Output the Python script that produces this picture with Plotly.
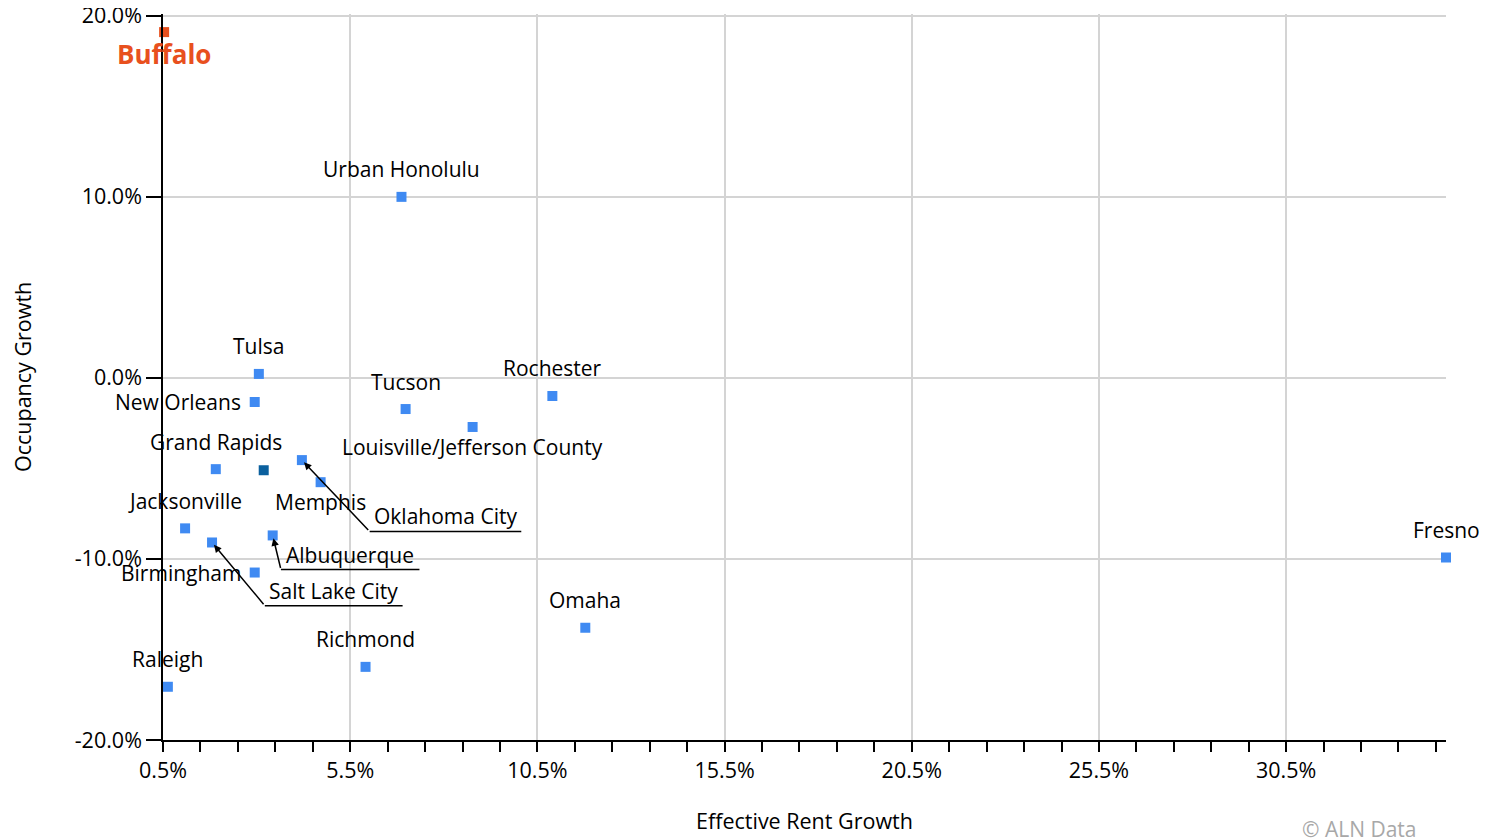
import plotly.graph_objects as go

# effective rent growth (%) vs occupancy growth (%)
cities = ["Buffalo", "Urban Honolulu", "Tulsa", "New Orleans", "Tucson", "Rochester",
          "Louisville/Jefferson County", "Grand Rapids", "Oklahoma City", "Memphis",
          "Jacksonville", "Salt Lake City", "Albuquerque", "Birmingham", "Fresno",
          "Omaha", "Richmond", "Raleigh"]
rent_growth = [0.53, 6.87, 3.06, 2.95, 6.98, 10.9, 8.77, 1.91, 4.21, 4.71,
               1.09, 1.81, 3.43, 2.95, 34.77, 11.78, 5.91, 0.63]
occ_growth = [19.1, 10.0, 0.22, -1.33, -1.72, -1.0, -2.71, -5.04, -4.54, -5.76,
              -8.31, -9.09, -8.7, -10.75, -9.92, -13.8, -15.96, -17.06]

# unlabeled highlighted market
hl_rent = [3.19]
hl_occ = [-5.1]

y_ticks = [-20, -10, 0, 10, 20]
y_ticktext = ["-20.0%", "-10.0%", "0.0%", "10.0%", "20.0%"]

BLUE = "#3f8af2"
DARK = "#0b609e"
ORANGE = "#e8501e"
FONT = "Open Sans, Noto Sans, sans-serif"

# label placement: (xanchor, xshift, yshift)
label_pos = {
    "Buffalo": ("center", 0, -22),
    "New Orleans": ("right", -12, 0),
    "Birmingham": ("right", -12, 0),
    "Louisville/Jefferson County": ("center", 0, -20),
    "Memphis": ("center", 0, -20),
    "Tucson": ("center", 0, 27),
    "Grand Rapids": ("center", 0, 27),
    "Jacksonville": ("center", 0, 27),
}
# callouts: label centre, leader tail, underline end (data coords)
callouts = {
    "Oklahoma City": ((8.05, -7.65), (6.02, -8.48), 10.07),
    "Albuquerque": ((5.49, -9.8), (3.65, -10.58), 7.35),
    "Salt Lake City": ((5.06, -11.75), (3.22, -12.58), 6.9),
}

fig = go.Figure()

colors = [ORANGE if c == "Buffalo" else BLUE for c in cities]
fig.add_trace(go.Scatter(x=rent_growth, y=occ_growth, mode="markers", text=cities,
                         marker=dict(symbol="square", size=10, color=colors), cliponaxis=False,
                         hovertemplate="%{text}<br>%{x:.1f}%, %{y:.1f}%<extra></extra>"))
fig.add_trace(go.Scatter(x=hl_rent, y=hl_occ, mode="markers",
                         marker=dict(symbol="square", size=10, color=DARK),
                         hoverinfo="skip"))

annotations = []
shapes = []
for c, xv, yv in zip(cities, rent_growth, occ_growth):
    if c in callouts:
        (tx, ty), (lx, ly), ux = callouts[c]
        annotations.append(dict(x=tx, y=ty, text=c, showarrow=False,
                                font=dict(family=FONT, size=21, color="black")))
        annotations.append(dict(x=xv, y=yv, ax=lx, ay=ly, axref="x", ayref="y", text="",
                                showarrow=True, arrowhead=2, arrowsize=1, arrowwidth=1.5,
                                arrowcolor="black", standoff=3))
        shapes.append(dict(type="line", x0=lx, x1=ux, y0=ly, y1=ly,
                           line=dict(color="black", width=1.5)))
        continue
    xa, xs, ys = label_pos.get(c, ("center", 0, 28))
    bold = c == "Buffalo"
    annotations.append(dict(x=xv, y=yv, text=f"<b>{c}</b>" if bold else c, showarrow=False,
                            xanchor=xa, xshift=xs, yshift=ys,
                            font=dict(family=FONT, size=26 if bold else 21,
                                      color=ORANGE if bold else "black")))

annotations += [
    dict(xref="paper", yref="paper", x=0.5, y=0, xanchor="center", yanchor="middle",
         yshift=-80, text="Effective Rent Growth",
         showarrow=False, font=dict(family=FONT, size=21.5, color="black")),
    dict(xref="paper", yref="paper", x=0, y=0.5, xanchor="center", yanchor="middle",
         xshift=-141, text="Occupancy Growth",
         textangle=-90, showarrow=False, font=dict(family=FONT, size=21.5, color="black")),
    dict(xref="paper", yref="paper", x=0.979, y=0, xanchor="right", yanchor="middle",
         yshift=-89, text="© ALN Data", showarrow=False,
         font=dict(family=FONT, size=21, color="#a8a8a8")),
]

fig.update_xaxes(range=[0.5, 34.77], tick0=0.5, dtick=5, tickformat=".1f", ticksuffix="%",
                 ticks="outside", ticklen=10, tickwidth=1.5, tickcolor="black",
                 showline=True, linecolor="black", linewidth=1.5,
                 showgrid=True, gridcolor="#d4d4d4", gridwidth=1.5, zeroline=False,
                 minor=dict(tick0=0.5, dtick=1, ticks="outside", ticklen=10, tickwidth=1.5,
                            tickcolor="black", showgrid=False),
                 tickfont=dict(family=FONT, size=21.5, color="black"))
fig.update_yaxes(range=[-20, 20.1], tickvals=y_ticks, ticktext=y_ticktext,
                 ticks="outside", ticklen=15, tickwidth=1.5, tickcolor="black",
                 showline=True, linecolor="black", linewidth=1.5, ticklabeloverflow="allow",
                 showgrid=True, gridcolor="#d4d4d4", gridwidth=1.5, zeroline=False,
                 tickfont=dict(family=FONT, size=21.5, color="black"))

# the page body adds an 8px offset, so the figure is sized to fit the window
fig.update_layout(width=1489, height=832, showlegend=False,
                  margin=dict(l=155, r=51, t=6, b=100, autoexpand=False),
                  plot_bgcolor="white", paper_bgcolor="white",
                  font=dict(family=FONT), annotations=annotations, shapes=shapes)

fig.write_html("out.html")
